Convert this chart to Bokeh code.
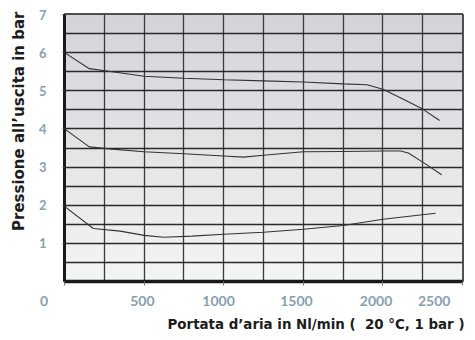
import numpy as np
from bokeh.plotting import figure
from bokeh.models import Range1d, FixedTicker, Title
from bokeh.embed import file_html
from bokeh.resources import INLINE

# Flow (Nl/min) and outlet pressure (bar) for three supply pressures
flow_6 = [0, 156, 300, 500, 750, 1000, 1250, 1500, 1750, 1900, 2000, 2100, 2250, 2356]
pres_6 = [6.0, 5.58, 5.5, 5.38, 5.33, 5.29, 5.26, 5.23, 5.18, 5.16, 5.04, 4.84, 4.52, 4.22]

flow_4 = [0, 156, 300, 500, 750, 1000, 1125, 1250, 1500, 1750, 2000, 2110, 2160, 2250, 2369]
pres_4 = [4.0, 3.53, 3.47, 3.40, 3.35, 3.29, 3.26, 3.31, 3.40, 3.41, 3.42, 3.42, 3.37, 3.13, 2.80]

flow_2 = [0, 181, 350, 500, 625, 800, 1000, 1250, 1500, 1750, 2000, 2331]
pres_2 = [1.97, 1.39, 1.32, 1.21, 1.16, 1.19, 1.24, 1.29, 1.37, 1.47, 1.63, 1.79]

NB = "\u00a0"
x_ticks = [0, 500, 1000, 1500, 2000, 2500]
x_labels = ["0" + NB * 12, "500" + NB, "1000" + NB * 3, "1500" + NB * 4,
            "2000" + NB * 4, "2500" + NB * 5]
y_ticks = [1, 2, 3, 4, 5, 6, 7]

TICK_COLOR = "#86a0b1"
TITLE_COLOR = "#1c1c1c"
FONT = "Lato"
TFONT = "DejaVu Sans"

p = figure(width=467, height=334, output_backend="svg", toolbar_location=None,
           x_range=Range1d(0, 2500), y_range=Range1d(0, 7),
           min_border_left=63, min_border_right=5, min_border_top=14,
           min_border_bottom=10, background_fill_color="#ffffff",
           border_fill_color="#ffffff")

# gradient background of plot area
n = 200
g = np.linspace(0, 1, n)[:, None]
top = np.array([0xd2, 0xd4, 0xd8])
bot = np.array([0xf4, 0xf5, 0xf5])
cols = (top * g + bot * (1 - g)).astype(np.uint32)
img = np.empty((n, 2), dtype=np.uint32)
rgba = img.view(dtype=np.uint8).reshape((n, 2, 4))
rgba[:, :, 0] = cols[:, 0:1]
rgba[:, :, 1] = cols[:, 1:2]
rgba[:, :, 2] = cols[:, 2:3]
rgba[:, :, 3] = 255
p.image_rgba(image=[img], x=0, y=0, dw=2500, dh=7, level="image")

# grid
p.xgrid.ticker = FixedTicker(ticks=list(np.arange(0, 2501, 250)))
p.ygrid.ticker = FixedTicker(ticks=list(np.arange(0, 7.01, 0.5)))
for gr in (p.xgrid, p.ygrid):
    gr.grid_line_color = "#2a2a2a"
    gr.grid_line_width = 1.3
    gr.level = "underlay"
p.xgrid.grid_line_color = "#3a3a3a"

# curves
for fx, py in ((flow_6, pres_6), (flow_4, pres_4), (flow_2, pres_2)):
    p.line(fx, py, line_color="#333333", line_width=1.1)

# frame
p.outline_line_color = "#1a1a1a"
p.outline_line_width = 2.5

# axes
p.xaxis.ticker = FixedTicker(ticks=x_ticks)
p.xaxis.major_label_overrides = dict(zip(x_ticks, x_labels))
p.xaxis.axis_line_width = 3.5
p.xaxis.axis_line_color = "#1a1a1a"
p.xaxis.major_tick_out = 4
p.xaxis.major_tick_in = 0
p.xaxis.major_tick_line_color = "#777777"
p.xaxis.minor_tick_line_color = None
p.xaxis.major_label_standoff = 6
p.xaxis.major_label_text_font = FONT
p.xaxis.major_label_text_font_style = "bold"
p.xaxis.major_label_text_font_size = "14px"
p.xaxis.major_label_text_color = TICK_COLOR

p.yaxis.ticker = FixedTicker(ticks=y_ticks)
p.yaxis.axis_line_width = 3
p.yaxis.axis_line_color = "#1a1a1a"
p.yaxis.major_tick_out = 2
p.yaxis.major_tick_in = 0
p.yaxis.major_tick_line_color = "#555555"
p.yaxis.minor_tick_line_color = None
p.yaxis.major_label_standoff = 16
p.yaxis.major_label_text_font = FONT
p.yaxis.major_label_text_font_style = "bold"
p.yaxis.major_label_text_font_size = "13px"
p.yaxis.major_label_text_color = TICK_COLOR

# axis titles
p.add_layout(Title(text="Portata d\u2019aria in Nl/min (\u00a0 20 \u00b0C, 1 bar )",
                   align="right", offset=-2, standoff=6,
                   text_font=TFONT, text_font_style="bold", text_font_size="13.4px",
                   text_color=TITLE_COLOR), "below")
p.add_layout(Title(text="Pressione all\u2019uscita in bar",
                   align="right", offset=-3, standoff=15,
                   text_font=TFONT, text_font_style="bold", text_font_size="15px",
                   text_color=TITLE_COLOR), "left")

open("out.html", "w").write(file_html(p, INLINE))
